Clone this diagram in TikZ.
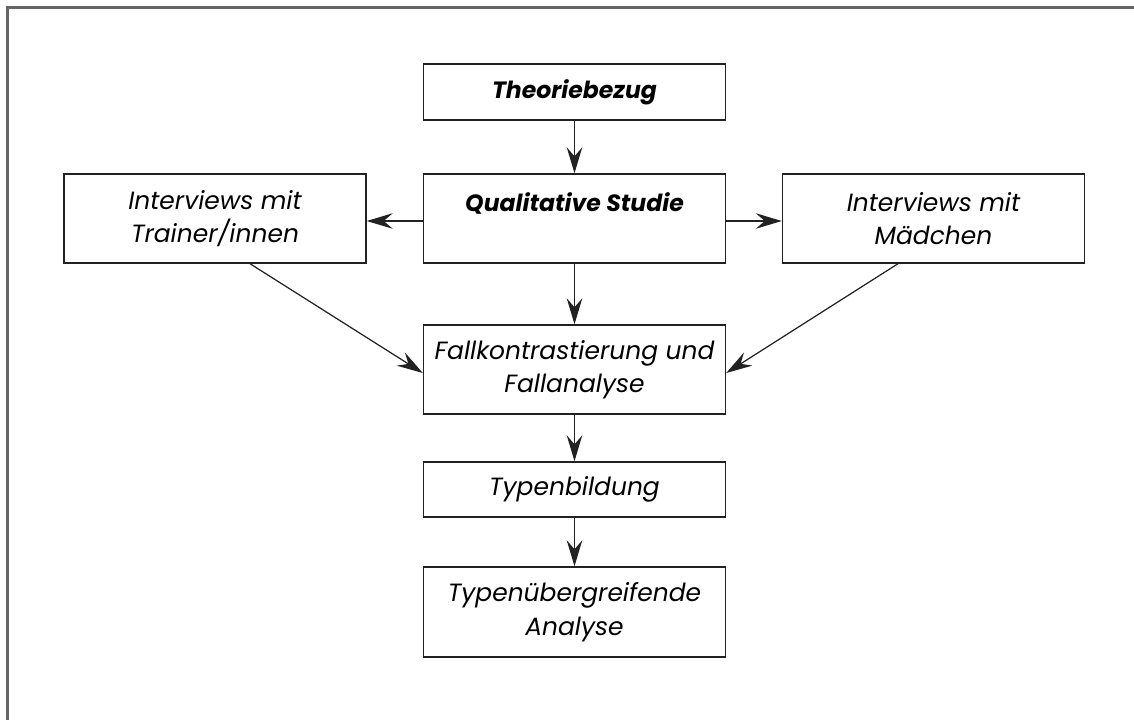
\documentclass[tikz,border=0pt]{standalone}
\usepackage{fontspec}
\setmainfont{Poppins}
\usetikzlibrary{arrows.meta}
\definecolor{framegray}{HTML}{666666}
\definecolor{linegray}{HTML}{222222}
\tikzset{
  stepbox/.style={draw=linegray, line width=0.8pt, minimum width=6.04cm, inner sep=0pt,
    align=center, font=\fontsize{14.2}{19}\selectfont\itshape},
  boldbox/.style={stepbox, font=\fontsize{13.4}{19}\selectfont\bfseries\itshape},
  flow/.style={-{Stealth[length=5.2mm,width=3.1mm,inset=1.8mm]}, draw=linegray, line width=0.7pt}
}
\begin{document}
\begin{tikzpicture}
\useasboundingbox (0,0) rectangle (22.68,-14.4);
% frame
\draw[framegray, line width=1.5pt] (0.15,-14.4) -- (0.15,-0.15) -- (22.68,-0.15);
\node[boldbox, minimum height=1.12cm] (theorie) at (11.49,-1.84) {Theoriebezug};
\node[boldbox, minimum height=1.78cm] (studie) at (11.49,-4.37) {Qualitative Studie\\\mbox{}};
\node[stepbox, minimum height=1.78cm] (trainer) at (4.30,-4.37) {Interviews mit\\Trainer/innen};
\node[stepbox, minimum height=1.78cm] (maedchen) at (18.67,-4.37) {Interviews mit\\Mädchen};
\node[stepbox, minimum height=1.78cm] (fall) at (11.49,-7.39) {Fallkontrastierung und\\Fallanalyse};
\node[stepbox, minimum height=1.10cm] (typen) at (11.49,-9.79) {Typenbildung};
\node[stepbox, minimum height=1.80cm] (analyse) at (11.49,-12.24) {Typenübergreifende\\Analyse};
\draw[flow] (theorie) -- (studie);
\draw[flow] ([yshift=-0.05cm]studie.west) -- ([yshift=-0.05cm]trainer.east);
\draw[flow] ([yshift=-0.05cm]studie.east) -- ([yshift=-0.05cm]maedchen.west);
\draw[flow] (studie) -- (fall);
\draw[flow] ([xshift=0.7cm]trainer.south) -- ([yshift=-0.07cm]fall.west);
\draw[flow] ([xshift=-0.71cm]maedchen.south) -- ([yshift=-0.07cm]fall.east);
\draw[flow] (fall) -- (typen);
\draw[flow] (typen) -- (analyse);
\end{tikzpicture}
\end{document}
